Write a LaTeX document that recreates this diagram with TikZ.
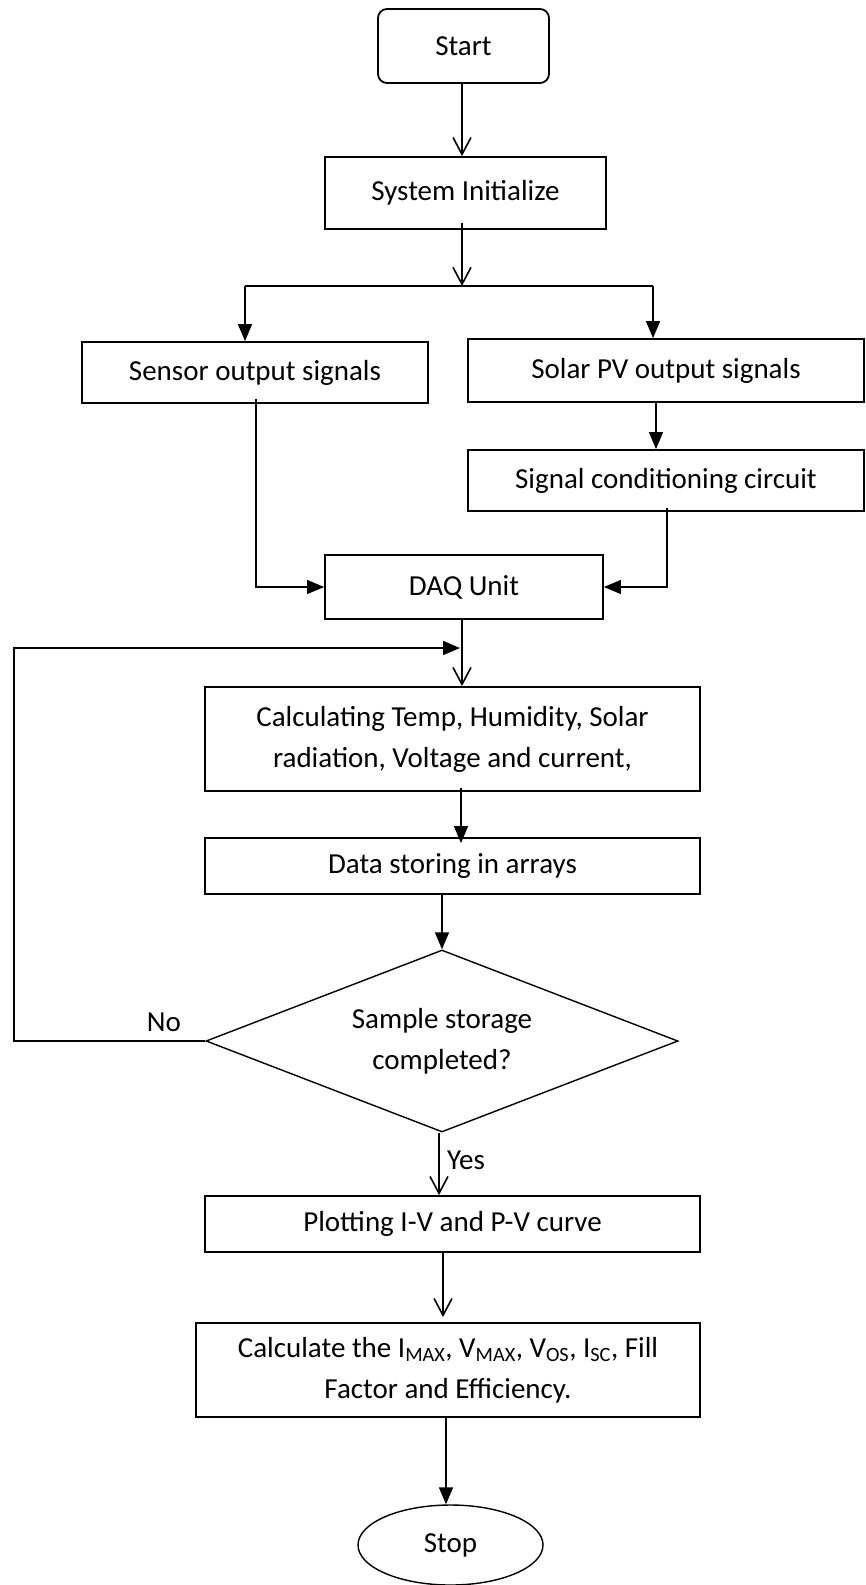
\documentclass[tikz,border=0pt]{standalone}
\usepackage{fontspec}
\setmainfont{Carlito}
\usetikzlibrary{arrows.meta,shapes.geometric}
\begin{document}
\begin{tikzpicture}[x=1pt,y=-1pt,
  txt/.style={font=\fontsize{29}{41}\selectfont},
  box/.style={draw, line width=1.8pt, inner sep=0pt, align=center, txt},
  openarr/.style={line width=1.6pt, -{Straight Barb[length=17pt,width=18pt,line width=1.6pt]}},
  fillarr/.style={line width=1.6pt, -{Triangle[length=17pt,width=14pt]}},
  thinarr/.style={line width=1.1pt, -{Triangle[length=17pt,width=14pt]}},
  plain/.style={line width=1.6pt}]
\useasboundingbox (0,0) rectangle (866,1585);

\node[box, rounded corners=9pt, minimum width=171pt, minimum height=74pt] (start) at (463.5,46) {Start};
\node[box, minimum width=281pt, minimum height=72pt] (sys) at (465.5,193) {System Initialize};
\node[box, minimum width=346pt, minimum height=61pt] (sensor) at (255,372.5) {Sensor output signals};
\node[box, minimum width=396pt, minimum height=63pt] (solar) at (666,370.5) {Solar PV output signals};
\node[box, minimum width=396pt, minimum height=61pt] (sig) at (666,480.5) {Signal conditioning circuit};
\node[box, minimum width=278pt, minimum height=64pt] (daq) at (464,587) {DAQ Unit};
\node[box, minimum width=495pt, minimum height=104pt] (calc) at (452.5,739) {Calculating Temp, Humidity, Solar\\radiation, Voltage and current,};
\node[box, minimum width=495pt, minimum height=56pt] (data) at (452.5,866) {Data storing in arrays};
\node[box, shape=diamond, aspect=2.59, minimum width=472pt, minimum height=182pt, line width=1.4pt] (dec) at (442,1041) {Sample storage\\completed?};
\node[box, minimum width=495pt, minimum height=56pt] (plot) at (452.5,1224) {Plotting I-V and P-V curve};
\node[box, minimum width=504pt, minimum height=94pt] (calc2) at (448,1370) {Calculate the I\textsubscript{MAX}, V\textsubscript{MAX}, V\textsubscript{OS}, I\textsubscript{SC}, Fill\\Factor and Efficiency.};
\node[box, shape=ellipse, minimum width=185pt, minimum height=80pt, line width=1.4pt] (stop) at (450.5,1545) {Stop};

\node[txt] (no) at (164,1022) {No};
\node[txt] (yes) at (466,1160) {Yes};

\coordinate (split) at (462,286);
\coordinate (splitL) at (245,286);
\coordinate (splitR) at (653,286);
\coordinate (fbcorner) at (14,1041);
\coordinate (fbtop) at (460,648);

\draw[openarr] (start.south -| 462,0) -- (sys.north -| 462,0);
\draw[openarr] ([yshift=7pt]sys.south -| split) -- (split);
\draw[plain] (splitL) -- (splitR);
\draw[fillarr] (splitL) -- (splitL |- sensor.north);
\draw[fillarr] (splitR) -- (splitR |- solar.north);
\draw[thinarr] ([yshift=5pt]sensor.south -| 256,0) |- (daq.west);
\draw[fillarr] (solar.south -| 656,0) -- (sig.north -| 656,0);
\draw[thinarr] ([yshift=4pt]sig.south -| 667,0) |- (daq.east);
\draw[openarr] (daq.south -| 462,0) -- (calc.north -| 462,0);
\draw[fillarr] (dec.west) -- (fbcorner) |- (fbtop);
\draw[fillarr] ([yshift=4pt]calc.south -| 461,0) -- ([yshift=-6pt]data.north -| 461,0);
\draw[fillarr] (data.south -| dec.north) -- (dec.north);
\draw[openarr] (dec.south -| 439,0) -- (plot.north -| 439,0);
\draw[openarr] (plot.south -| 443,0) -- ([yshift=5pt]calc2.north -| 443,0);
\draw[fillarr] (calc2.south -| 446,0) -- (stop.north -| 446,0);
\end{tikzpicture}
\end{document}
